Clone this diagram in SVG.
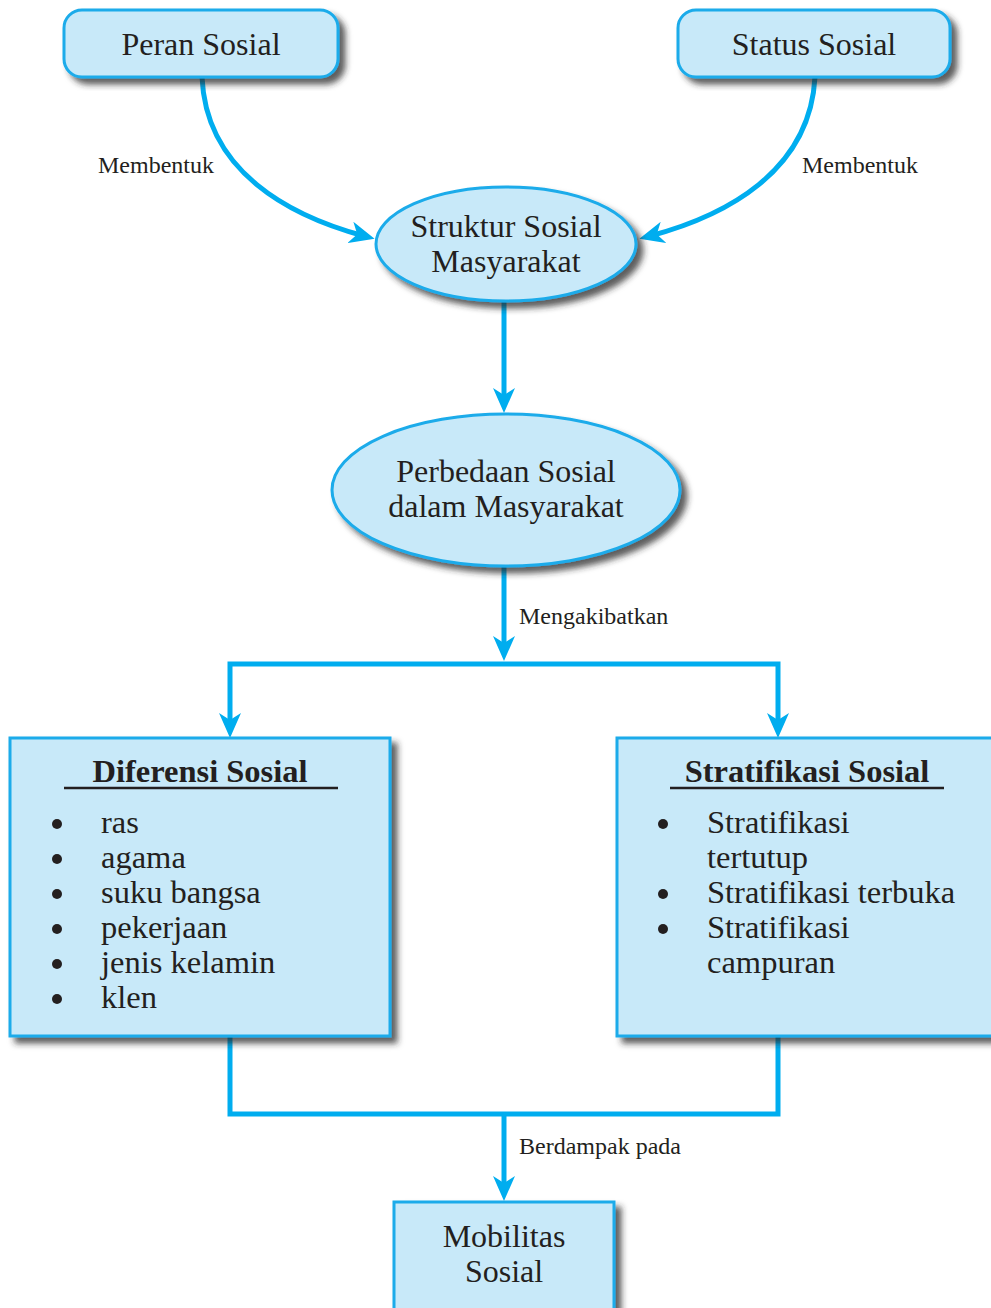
<svg xmlns="http://www.w3.org/2000/svg" width="991" height="1308" viewBox="0 0 991 1308">
  <defs>
    <filter id="shadow" x="-10%" y="-10%" width="130%" height="130%">
      <feDropShadow dx="6" dy="6" stdDeviation="3" flood-color="#2a2a2a" flood-opacity="0.75"/>
    </filter>
    <marker id="arrow" markerUnits="userSpaceOnUse" markerWidth="26" markerHeight="22" viewBox="0 0 26 22" refX="14" refY="11" orient="auto">
      <path d="M0,0 L25,11 L0,22 L7,11 z" fill="#00adef"/>
    </marker>
    <style>
      .node { fill: #c8e9f9; stroke: #1aabea; stroke-width: 3; filter: url(#shadow); }
      .title { font-family: "Liberation Serif", serif; font-size: 32px; fill: #231f20; text-anchor: middle; }
      .head { font-family: "Liberation Serif", serif; font-size: 32.5px; font-weight: bold; fill: #231f20; text-anchor: middle; }
      .item { font-family: "Liberation Serif", serif; font-size: 32.5px; fill: #231f20; }
      .label { font-family: "Liberation Serif", serif; font-size: 24px; fill: #231f20; }
      .link { fill: none; stroke: #00adef; stroke-width: 5; }
      .rule { stroke: #231f20; stroke-width: 2.5; }
      .dot { fill: #231f20; }
    </style>
  </defs>

  <rect width="991" height="1308" fill="#ffffff"/>

  <!-- connectors -->
  <g id="connectors">
    <path class="link" d="M202,77 C206,172 290,216 364,236" marker-end="url(#arrow)"/>
    <path class="link" d="M815,77 C810,172 725,216 650,236" marker-end="url(#arrow)"/>
    <path class="link" d="M504,301 V402" marker-end="url(#arrow)"/>
    <path class="link" d="M504,566 V650" marker-end="url(#arrow)"/>
    <path class="link" d="M504,664 H230 V727" marker-end="url(#arrow)"/>
    <path class="link" d="M504,664 H778 V727" marker-end="url(#arrow)"/>
    <path class="link" d="M230,1036 V1114 H778 V1036"/>
    <path class="link" d="M504,1114 V1190" marker-end="url(#arrow)"/>
    <text class="label" x="98" y="173">Membentuk</text>
    <text class="label" x="802" y="173">Membentuk</text>
    <text class="label" x="519" y="624">Mengakibatkan</text>
    <text class="label" x="519" y="1154">Berdampak pada</text>
  </g>

  <g id="peran-sosial">
    <rect class="node" x="64" y="10" width="274" height="67" rx="18"/>
    <text class="title" x="201" y="55">Peran Sosial</text>
  </g>

  <g id="status-sosial">
    <rect class="node" x="678" y="10" width="272" height="67" rx="18"/>
    <text class="title" x="814" y="55">Status Sosial</text>
  </g>

  <g id="struktur-sosial">
    <ellipse class="node" cx="506" cy="244" rx="130" ry="57"/>
    <text class="title" x="506" y="237">Struktur Sosial</text>
    <text class="title" x="506" y="272">Masyarakat</text>
  </g>

  <g id="perbedaan-sosial">
    <ellipse class="node" cx="506" cy="490" rx="174" ry="76"/>
    <text class="title" x="506" y="482">Perbedaan Sosial</text>
    <text class="title" x="506" y="517">dalam Masyarakat</text>
  </g>

  <g id="diferensi-sosial">
    <rect class="node" x="10" y="738" width="380" height="298"/>
    <text class="head" x="200" y="782">Diferensi Sosial</text>
    <line class="rule" x1="64" y1="788" x2="338" y2="788"/>
    <circle class="dot" cx="57" cy="824" r="5"/>
    <circle class="dot" cx="57" cy="859" r="5"/>
    <circle class="dot" cx="57" cy="894" r="5"/>
    <circle class="dot" cx="57" cy="929" r="5"/>
    <circle class="dot" cx="57" cy="964" r="5"/>
    <circle class="dot" cx="57" cy="999" r="5"/>
    <text class="item" x="101" y="833">ras</text>
    <text class="item" x="101" y="868">agama</text>
    <text class="item" x="101" y="903">suku bangsa</text>
    <text class="item" x="101" y="938">pekerjaan</text>
    <text class="item" x="101" y="973">jenis kelamin</text>
    <text class="item" x="101" y="1008">klen</text>
  </g>

  <g id="stratifikasi-sosial">
    <rect class="node" x="617" y="738" width="384" height="298"/>
    <text class="head" x="807" y="782">Stratifikasi Sosial</text>
    <line class="rule" x1="670" y1="788" x2="944" y2="788"/>
    <circle class="dot" cx="663" cy="824" r="5"/>
    <circle class="dot" cx="663" cy="894" r="5"/>
    <circle class="dot" cx="663" cy="929" r="5"/>
    <text class="item" x="707" y="833">Stratifikasi</text>
    <text class="item" x="707" y="868">tertutup</text>
    <text class="item" x="707" y="903">Stratifikasi terbuka</text>
    <text class="item" x="707" y="938">Stratifikasi</text>
    <text class="item" x="707" y="973">campuran</text>
  </g>

  <g id="mobilitas-sosial">
    <rect class="node" x="394" y="1202" width="220" height="120"/>
    <text class="title" x="504" y="1247">Mobilitas</text>
    <text class="title" x="504" y="1282">Sosial</text>
  </g>
</svg>
